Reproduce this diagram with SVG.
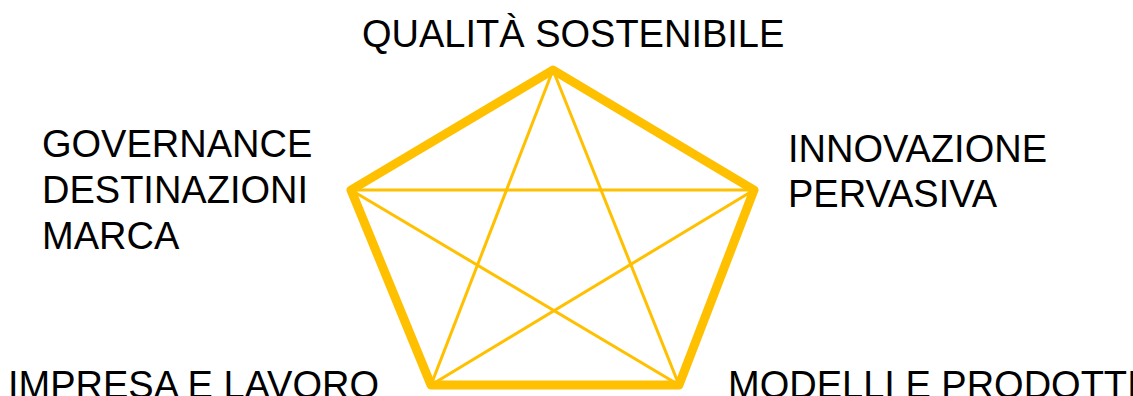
<svg xmlns="http://www.w3.org/2000/svg" width="1133" height="396" viewBox="0 0 1133 396">
<style>
.lbl{font-family:"Liberation Sans",Arial,sans-serif;font-size:38px;fill:#000}
.pent{fill:none;stroke:#FFC000;stroke-width:9;stroke-linejoin:round}
.star{fill:none;stroke:#FFC000;stroke-width:3}
</style>
<rect width="1133" height="396" fill="#fff"/>
<g id="connectors">
<polygon class="pent" points="553,70 754,190 679,385 431,385 351,190"/>
<line class="star" x1="553" y1="70" x2="431" y2="385"/>
<line class="star" x1="553" y1="70" x2="679" y2="385"/>
<line class="star" x1="351" y1="190" x2="754" y2="190"/>
<line class="star" x1="351" y1="190" x2="679" y2="385"/>
<line class="star" x1="754" y1="190" x2="431" y2="385"/>
</g>
<g id="n-top"><text class="lbl" x="362" y="47">QUALITÀ SOSTENIBILE</text></g>
<g id="n-left"><text class="lbl" x="42" y="157">GOVERNANCE</text><text class="lbl" x="42" y="203">DESTINAZIONI</text><text class="lbl" x="42" y="249">MARCA</text></g>
<g id="n-right"><text class="lbl" x="788" y="162">INNOVAZIONE</text><text class="lbl" x="788" y="207">PERVASIVA</text></g>
<g id="n-bl"><text class="lbl" x="8" y="398">IMPRESA E LAVORO</text></g>
<g id="n-br"><text class="lbl" x="728" y="398">MODELLI E PRODOTTI</text></g>
</svg>
